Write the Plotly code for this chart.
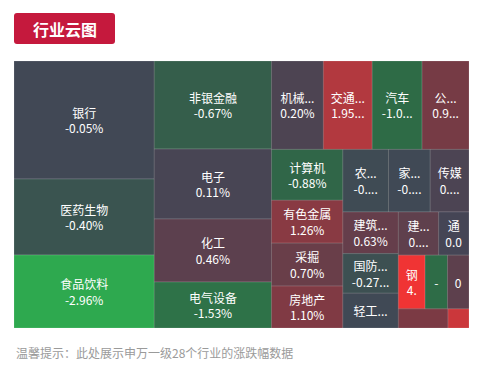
import plotly.graph_objects as go

# Industry names (Shenwan level-1), in tile order
industries = ["银行", "医药生物", "食品饮料", "非银金融", "电子", "化工", "电气设备",
              "机械设备", "交通运输", "汽车", "公用事业",
              "计算机", "有色金属", "采掘", "房地产",
              "农林牧渔", "家用电器", "传媒",
              "建筑装饰", "国防军工", "轻工制造",
              "建筑材料", "通信",
              "钢铁", "商业贸易", "纺织服装", "休闲服务", "综合"]

# Tile size (market weight, estimated from tile areas)
sizes = [16520, 10640, 10220, 10296, 8190, 7371, 5382,
         4576, 4312, 4400, 4136,
         3621, 3053, 3053, 2982,
         2852, 2604, 2418,
         2310, 2200, 1925,
         1740, 1310,
         1430, 1200, 1150, 950, 400]

# Daily change in percent
changes = [-0.05, -0.40, -2.96, -0.67, 0.11, 0.46, -1.53,
           0.20, 1.95, -1.04, 0.93,
           -0.88, 1.26, 0.70, 1.10,
           -0.15, -0.08, 0.18,
           0.63, -0.27, -0.09,
           0.52, 0.06,
           4.21, -1.15, 0.48, 1.02, 2.38]

# Labels as shown in the tiles (truncated like the original)
tile_texts = ["银行<br>-0.05%", "医药生物<br>-0.40%", "食品饮料<br>-2.96%",
              "非银金融<br>-0.67%", "电子<br>0.11%", "化工<br>0.46%", "电气设备<br>-1.53%",
              "机械...<br>0.20%", "交通...<br>1.95...", "汽车<br>-1.0...", "公...<br>0.9...",
              "计算机<br>-0.88%", "有色金属<br>1.26%", "采掘<br>0.70%", "房地产<br>1.10%",
              "农...<br>-0....", "家...<br>-0....", "传媒<br>0....",
              "建筑...<br>0.63%", "国防...<br>-0.27...", "轻工...",
              "建...<br>0....", "通<br>0.0",
              "钢<br>4.", "-", "0", "", ""]

colorscale = [
    [0.0, "#2eab4f"],
    [1 / 6, "#2e7a4a"],
    [2 / 6, "#2e6a46"],
    [0.5, "#424656"],
    [4 / 6, "#7a3a44"],
    [5 / 6, "#b5393f"],
    [1.0, "#f03434"],
]

fig = go.Figure(go.Treemap(
    labels=industries,
    parents=[""] * len(industries),
    values=sizes,
    text=tile_texts,
    texttemplate="%{text}",
    textposition="middle center",
    textfont=dict(family="Noto Sans CJK SC, Microsoft YaHei, sans-serif", size=12, color="#ffffff"),
    marker=dict(
        colors=changes,
        colorscale=colorscale,
        cmin=-3, cmax=3,
        line=dict(color="rgba(255,255,255,0.14)", width=1),
        pad=dict(t=0, l=0, r=0, b=0),
        showscale=False,
    ),
    tiling=dict(packing="squarify", squarifyratio=1.618, pad=0),
    pathbar=dict(visible=False),
    sort=False,
    hoverinfo="skip",
))

# page body adds an 8px offset; plot area spans x 14..469, y 61..328 on screen
x0, x1 = 0.0, 101 / 455
y1, y0 = (328 - 13) / 267, (328 - 44) / 267
rx, ry = 3 / 455, 3 / 267
path = (f"M {x0+rx},{y1} L {x1-rx},{y1} Q {x1},{y1} {x1},{y1-ry} "
        f"L {x1},{y0+ry} Q {x1},{y0} {x1-rx},{y0} L {x0+rx},{y0} "
        f"Q {x0},{y0} {x0},{y0+ry} L {x0},{y1-ry} Q {x0},{y1} {x0+rx},{y1} Z")

fig.update_layout(
    width=470, height=366,
    margin=dict(l=6, r=9, t=53, b=46),
    paper_bgcolor="#ffffff",
    uniformtext=dict(minsize=12, mode="hide"),
    shapes=[dict(type="path", xref="paper", yref="paper", path=path,
                 fillcolor="#c5193d", line=dict(width=0), layer="above")],
    annotations=[
        dict(text="<b>行业云图</b>", xref="paper", yref="paper",
             x=(64.5 - 14) / 455, y=(328 - 28.5) / 267, xanchor="center", yanchor="middle",
             showarrow=False,
             font=dict(family="Noto Sans CJK SC, sans-serif", size=16, color="#ffffff")),
        dict(text="温馨提示：此处展示申万一级28个行业的涨跌幅数据", xref="paper", yref="paper",
             x=0, y=(328 - 352) / 267, xanchor="left", yanchor="middle", showarrow=False,
             font=dict(family="Noto Sans CJK SC, sans-serif", size=12, color="#9a9a9a")),
    ],
)

fig.write_html("out.html")
